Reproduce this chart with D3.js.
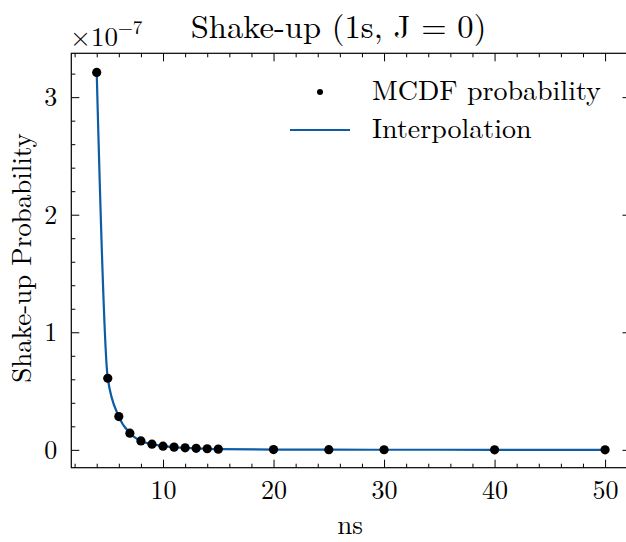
<!DOCTYPE html>
<html>
<head>
<meta charset="utf-8">
<script src="https://cdn.jsdelivr.net/npm/d3@7"></script>
<style>
  body { margin: 0; background: #fff; }
  svg { display: block; }
</style>
</head>
<body>
<svg class="chart"></svg>
<script>
// tamaño de la figura y márgenes (el borde derecho queda fuera de la ventana, como en el original)
var W = 626, H = 542;
var margin = {top: 53.3, right: -4.5, bottom: 74.3, left: 71.3},
    width = W - margin.left - margin.right,
    height = H - margin.top - margin.bottom;

var FONT = "'Latin Modern Roman', 'CMU Serif', 'Liberation Serif', serif";

// datos: energía (ns) y probabilidad de shake-up en unidades de 1e-7
var energies = [4, 5, 6, 7, 8, 9, 10, 11, 12, 13, 14, 15, 20, 25, 30, 40, 50];
var probs = [3.21, 0.609, 0.283, 0.142, 0.076, 0.048, 0.031, 0.023, 0.017, 0.013, 0.009, 0.006, 0.002, 0.0012, 0.0008, 0.0004, 0.0002];

var xDomain = [1.7, 52.3];
var yDomain = [-0.152, 3.373];
var xMajor = [10, 20, 30, 40, 50];
var yMajor = [0, 1, 2, 3];

var blue = "#0C5DA5";

var svg = d3.select(".chart").attr("width", W).attr("height", H);
var g = svg.append("g").attr("transform", "translate(" + margin.left + "," + margin.top + ")");

var x = d3.scaleLinear().domain(xDomain).range([0, width]);
var y = d3.scaleLinear().domain(yDomain).range([height, 0]);

var xMinor = d3.range(2, 53, 2).filter(function(d){ return d % 10 != 0; });
var yMinor = d3.range(0, 3.4, 0.2).filter(function(d){ return Math.abs(d - Math.round(d)) > 1e-6; });

// ticks hacia adentro en los cuatro lados
function ticks(axis, vals, size, labels) {
  axis.tickValues(vals).tickSizeInner(-size).tickSizeOuter(0).tickPadding(size + 14);
  if (!labels) axis.tickFormat("");
  return axis;
}

// minor
g.append("g").attr("transform", "translate(0," + height + ")").call(ticks(d3.axisBottom(x), xMinor, 4, false));
g.append("g").call(ticks(d3.axisTop(x), xMinor, 4, false));
g.append("g").call(ticks(d3.axisLeft(y), yMinor, 4, false));
g.append("g").attr("transform", "translate(" + width + ",0)").call(ticks(d3.axisRight(y), yMinor, 4, false));

// major
g.append("g").attr("class", "xaxis").attr("transform", "translate(0," + height + ")")
  .call(ticks(d3.axisBottom(x), xMajor, 8, true).tickFormat(d3.format("d")));
g.append("g").call(ticks(d3.axisTop(x), xMajor, 8, false));
g.append("g").attr("class", "yaxis")
  .call(ticks(d3.axisLeft(y), yMajor, 8, true).tickFormat(d3.format("d")));
g.append("g").attr("transform", "translate(" + width + ",0)").call(ticks(d3.axisRight(y), yMajor, 8, false));

g.selectAll(".domain").remove();
g.selectAll(".tick line").attr("stroke", "#000").attr("stroke-width", 1);
g.selectAll(".tick text").style("font-size", "26px").style("font-family", FONT);
g.selectAll(".xaxis .tick text").attr("dy", "0.71em").attr("y", 13);
g.selectAll(".yaxis .tick text").attr("x", -14).attr("dy", "0.33em");

// marco
g.append("rect")
  .attr("width", width).attr("height", height)
  .attr("fill", "none").attr("stroke", "#000").attr("stroke-width", 1.2);

// interpolación
var line = d3.line()
  .x(function(d){ return x(d[0]); })
  .y(function(d){ return y(d[1]); })
  .curve(d3.curveMonotoneX);

var pts = energies.map(function(e, i){ return [e, probs[i]]; });

g.append("path")
  .datum(pts)
  .attr("d", line)
  .attr("fill", "none")
  .attr("stroke", blue)
  .attr("stroke-width", 2.2);

g.selectAll("circle.pt")
  .data(pts)
  .enter().append("circle")
  .attr("class", "pt")
  .attr("cx", function(d){ return x(d[0]); })
  .attr("cy", function(d){ return y(d[1]); })
  .attr("r", 4.6)
  .attr("fill", "#000");

// leyenda
var leg = svg.append("g").attr("class", "legend");
leg.append("circle").attr("cx", 320).attr("cy", 92).attr("r", 3).attr("fill", "#000");
leg.append("text").attr("x", 372).attr("y", 100).text("MCDF probability");
leg.append("line").attr("x1", 290).attr("x2", 350).attr("y1", 130).attr("y2", 130)
  .attr("stroke", blue).attr("stroke-width", 2.2);
leg.append("text").attr("x", 372).attr("y", 138).text("Interpolation");
leg.selectAll("text").style("font-family", FONT).style("font-size", "28px");

// títulos
svg.append("text")
  .attr("x", 338.5).attr("y", 38)
  .attr("text-anchor", "middle")
  .style("font-family", FONT)
  .style("font-size", "32.6px")
  .text("Shake-up (1s, J = 0)");

var mult = svg.append("text").attr("x", 70).attr("y", 46)
  .style("font-family", FONT).style("font-size", "27px");
mult.append("tspan").text("×10");
mult.append("tspan").attr("dy", -12).style("font-size", "19px").text("−7");

svg.append("text")
  .attr("x", 350).attr("y", 534)
  .attr("text-anchor", "middle")
  .style("font-family", FONT)
  .style("font-size", "27px")
  .text("ns");

svg.append("text")
  .attr("transform", "translate(31,258) rotate(-90)")
  .attr("text-anchor", "middle")
  .style("font-family", FONT)
  .style("font-size", "27px")
  .text("Shake-up Probability");
</script>
</body>
</html>
